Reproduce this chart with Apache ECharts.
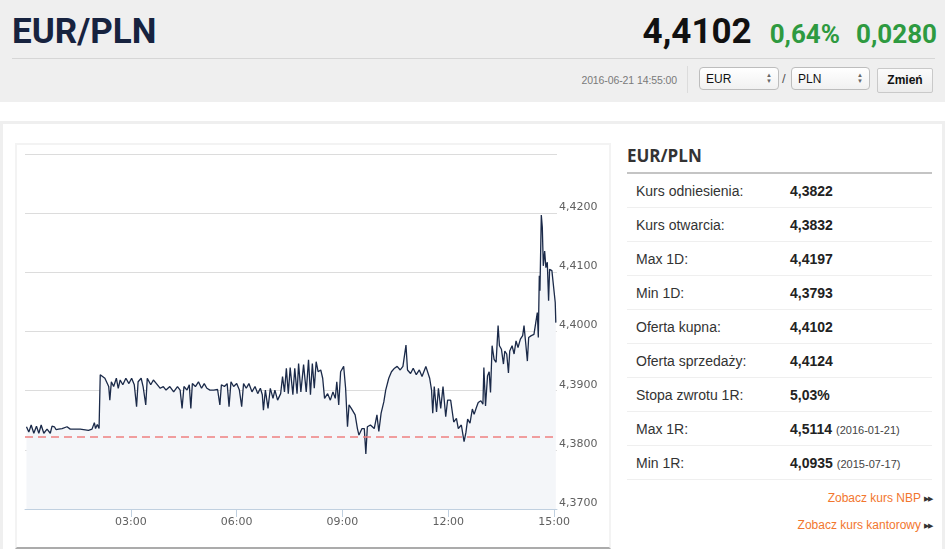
<!DOCTYPE html>
<html><head><meta charset="utf-8">
<script src="https://cdn.jsdelivr.net/npm/echarts@6/dist/echarts.min.js"></script>
<style>
html,body{margin:0;padding:0}
body{width:945px;height:549px;overflow:hidden;background:#fff;font-family:Arial,"Liberation Sans",sans-serif;position:relative}
.abs{position:absolute}
#hdr{left:0;top:0;width:945px;height:102px;background:#efefef}
#pair{left:12px;top:14px;font:700 35px/35px Roboto,sans-serif;color:#17233f;white-space:nowrap}
#quote{right:8px;top:14px;display:flex;align-items:baseline;white-space:nowrap;font-family:Roboto,sans-serif;font-weight:700}
#price{font-size:35px;line-height:35px;color:#111;margin-right:18px}
.chg{font-size:26px;line-height:35px;color:#2e9a40}
#sep{left:12px;top:58px;width:923px;height:1px;background:#d6d6d6}
#stamp{right:268px;top:74px;font-size:10.5px;color:#7a7a7a;white-space:nowrap;letter-spacing:-0.1px}
#vsep{left:687px;top:66px;width:1px;height:27px;background:#dcdcdc}
.sel{top:67px;height:21px;border:1px solid #bdbdbd;border-radius:4px;background:linear-gradient(#fff,#f1f1f1);font-size:12px;color:#111;box-sizing:content-box}
.sel span.t{position:absolute;left:6px;top:4px}
.sel .ar{position:absolute;right:6px;top:4px;font-size:6px;line-height:6px;color:#666;text-align:center}
#slash{left:782px;top:71px;font-size:13px;color:#555}
#btn{left:877px;top:68px;width:54px;height:23px;border:1px solid #c9c9c9;background:linear-gradient(#fbfbfb,#ececec);font-size:12px;font-weight:700;color:#111;text-align:center;line-height:23px;border-radius:2px}
#outer{left:0;top:121px;width:945px;height:440px;box-sizing:border-box;border:3px solid #efefef}
#cbox{left:15px;top:143px;width:596px;height:406px;box-sizing:border-box;border:2px solid #f3f3f3;border-bottom:2px solid #ababab}
#chart{left:15px;top:143px;width:596px;height:406px}
#ptitle{left:627px;top:146px;font:700 17px/20px "Open Sans",Arial,sans-serif;color:#333}
#pline{left:627px;top:172px;width:305px;height:2px;background:#c4c4c4}
.row{left:627px;width:305px;height:34px;border-bottom:1px solid #efefef;box-sizing:border-box;font-size:14px;color:#333}
.row .l{position:absolute;left:9px;top:9px}
.row .v{position:absolute;left:163px;top:9px;font-weight:700;color:#222}
.row .d{font-size:11px;font-weight:400;color:#444;margin-left:4px}
.lnk{right:13px;font-size:12px;color:#f2762e;white-space:nowrap}
.lnk .a{color:#333;font-size:7px;margin-left:3px;letter-spacing:-1px;vertical-align:1px}
</style></head>
<body>
<div id="hdr" class="abs"></div>
<div id="pair" class="abs">EUR/PLN</div>
<div id="quote" class="abs"><span id="price">4,4102</span><span class="chg" style="margin-right:16px">0,64%</span><span class="chg">0,0280</span></div>
<div id="sep" class="abs"></div>
<div id="stamp" class="abs">2016-06-21 14:55:00</div>
<div id="vsep" class="abs"></div>
<div class="abs sel" style="left:699px;width:78px"><span class="t">EUR</span><span class="ar">▲<br>▼</span></div>
<div id="slash" class="abs">/</div>
<div class="abs sel" style="left:791px;width:77px"><span class="t">PLN</span><span class="ar">▲<br>▼</span></div>
<div id="btn" class="abs">Zmień</div>
<div id="outer" class="abs"></div>
<div id="cbox" class="abs"></div>
<div id="chart" class="abs"></div>
<div id="ptitle" class="abs">EUR/PLN</div>
<div id="pline" class="abs"></div>
<div id="rows"></div>
<div class="abs lnk" style="top:491px">Zobacz kurs NBP<span class="a">▶▶</span></div>
<div class="abs lnk" style="top:518px">Zobacz kurs kantorowy<span class="a">▶▶</span></div>
<script>
// minutes after midnight (2016-06-21)
const times = [
2.5,6.5,10.5,15,19.5,23.5,27.5,32,37.5,43,46,50,53,57,63,71.5,77,94,108,114,118,120,123,126,
128,135.9,139.1,142.4,144.3,146.9,150.8,155.4,158.6,161.9,
166.4,171.6,176.8,181.4,185.9,189.8,192.4,197.6,200.9,205.4,
208,213.9,218.4,223.6,230.1,235.3,239.9,246.4,252.9,259.4,
263.9,267.2,270.4,275.6,279.5,282.1,284.7,289.9,295.1,300.3,
304.9,309.4,314.6,321.1,327.6,331.5,334.1,339.3,343.9,347.1,
350.4,354.9,360.1,364.7,368.6,371.8,376.4,380.9,386.1,391.3,
395.9,400.4,403.7,405.6,408.9,413.4,417.3,421.9,425.1,429.7,
434.9,438.1,441.4,444.6,447.9,451.1,455.7,458.9,462.8,465.4,
469.3,473.9,478.4,482.3,485.6,488.8,492.1,495.3,498.6,503.1,
506.4,509.6,514.8,519.4,523.9,527.8,530.4,533.7,536.9,542.1,
545.4,548.6,551.2,555.1,561.6,565.5,568.1,573.3,577.2,579.8,
582.4,587.6,594.1,598.7,601.9,605.8,610.4,613.6,618.8,623.4,
628.6,633.1,638.3,642.9,648.1,650.7,655.9,660.4,665.6,670.8,
675.4,681.9,688.4,691.6,693.6,696.2,700.1,703.3,707.2,711.1,
715.7,718.9,724.1,729.3,733.9,737.1,742.3,746.9,
750,753,757,761,764,768,771,775.5,779,780.6,
783.4,786.8,789.6,791.9,794.6,798,801.4,804.8,807.1,810.5,
813.9,816.2,819.5,822.4,824.6,828.6,832,835.3,838.7,842.7,
846.6,848.9,851.7,854.6,856.8,861.3,865.8,869.2,871.5,873.2,
874.9,876,878.3,880,881.7,884,886.1,888.5,890.7,892.4,
896.3,899.2,902,903
];
const rates = [
4.3839,4.3830,4.3842,4.3828,4.3840,4.3828,4.3842,4.3828,4.3835,4.3828,4.3840,4.3839,4.3834,4.3835,4.3836,4.3839,4.3835,4.3835,4.3833,4.3835,4.3846,4.3836,4.3843,4.3836,
4.3927,4.3921,4.3924,4.3907,4.3884,4.3915,4.3907,4.3921,4.3904,4.3918,
4.3910,4.3921,4.3912,4.3921,4.3910,4.3873,4.3915,4.3921,4.3907,4.3876,
4.3921,4.3910,4.3918,4.3912,4.3904,4.3907,4.3901,4.3907,4.3898,4.3907,
4.3901,4.3870,4.3907,4.3901,4.3910,4.3870,4.3912,4.3907,4.3915,4.3904,
4.3912,4.3904,4.3901,4.3901,4.3902,4.3876,4.3910,4.3907,4.3912,4.3873,
4.3915,4.3907,4.3912,4.3901,4.3873,4.3912,4.3904,4.3912,4.3898,4.3907,
4.3895,4.3904,4.3893,4.3867,4.3901,4.3870,4.3904,4.3887,4.3901,4.3884,
4.3895,4.3924,4.3898,4.3938,4.3895,4.3939,4.3893,4.3938,4.3895,4.3946,
4.3898,4.3944,4.3898,4.3952,4.3893,4.3946,4.3904,4.3949,4.3932,4.3935,
4.3921,4.3887,4.3895,4.3884,4.3898,4.3887,4.3915,4.3876,4.3932,4.3941,
4.3904,4.3839,4.3876,4.3870,4.3859,4.3836,4.3825,4.3836,4.3836,4.3793,
4.3839,4.3842,4.3836,4.3859,4.3831,4.3862,4.3881,4.3901,4.3921,4.3932,
4.3938,4.3941,4.3935,4.3941,4.3977,4.3935,4.3929,4.3938,4.3927,4.3935,
4.3924,4.3941,4.3921,4.3901,4.3862,4.3907,4.3864,4.3904,4.3870,4.3907,
4.3856,4.3884,4.3884,4.3847,4.3853,4.3836,4.3842,4.3814,
4.3829,4.3852,4.3845,4.3869,4.3860,4.3872,4.3880,4.3883,4.3877,4.3939,
4.3874,4.3925,4.3932,4.3897,4.3976,4.3953,4.3948,4.4010,4.3976,4.3970,
4.3945,4.3967,4.3962,4.3930,4.3967,4.3976,4.3962,4.3984,4.3973,4.3987,
4.3993,4.4010,4.3981,4.3950,4.3990,4.3993,4.3995,4.3998,4.4032,4.3990,
4.4094,4.4069,4.4197,4.4176,4.4111,4.4136,4.4108,4.4117,4.4052,4.4105,
4.4103,4.4101,4.4049,4.4015
];
const refRate = 4.3822;
const xTickValues = [180,360,540,720,900];
const xTickLabels = ['03:00','06:00','09:00','12:00','15:00'];

const statLabels = ['Kurs odniesienia:','Kurs otwarcia:','Max 1D:','Min 1D:','Oferta kupna:','Oferta sprzedaży:','Stopa zwrotu 1R:','Max 1R:','Min 1R:'];
const statValues = ['4,3822','4,3832','4,4197','4,3793','4,4102','4,4124','5,03%','4,5114','4,0935'];
const statDates  = ['','','','','','','','(2016-01-21)','(2015-07-17)'];

const rowsEl = document.getElementById('rows');
statLabels.forEach((l,i)=>{
  const r = document.createElement('div');
  r.className='abs row';
  r.style.top = (174 + i*34) + 'px';
  r.innerHTML = '<span class="l">'+l+'</span><span class="v">'+statValues[i]+(statDates[i]?'<span class="d">'+statDates[i]+'</span>':'')+'</span>';
  rowsEl.appendChild(r);
});

const data = times.map((t,i)=>[t,rates[i]]);
const chart = echarts.init(document.getElementById('chart'));
chart.setOption({
  animation:false,
  grid:{left:10,right:54,top:11,bottom:40},
  xAxis:{type:'value',min:0,max:905,
    axisLine:{show:true,lineStyle:{color:'#c0d0e0',width:1}},
    axisTick:{show:true,customValues:xTickValues,length:8,lineStyle:{color:'#c0d0e0'}},
    axisLabel:{customValues:xTickValues,formatter:v=>{const k=xTickValues.indexOf(v);return k>=0?xTickLabels[k]:'';},color:'#606060',fontSize:11,fontFamily:'DejaVu Sans',margin:8},
    splitLine:{show:false}},
  yAxis:{type:'value',position:'right',min:4.37,max:4.43,interval:0.01,
    axisLine:{show:false},axisTick:{show:false},
    axisLabel:{showMaxLabel:false,formatter:v=>v.toFixed(4).replace('.',','),color:'#606060',fontSize:11,fontFamily:'DejaVu Sans',margin:2,verticalAlign:'bottom',lineHeight:12},
    splitLine:{show:true,lineStyle:{color:'#dcdcdc',width:1}}},
  series:[{type:'line',data:data,showSymbol:false,symbol:'none',
    lineStyle:{color:'#1b2a49',width:1.3},
    areaStyle:{color:'#f4f6f9',origin:'start',opacity:1},
    markLine:{silent:true,symbol:'none',precision:4,label:{show:false},
      lineStyle:{color:'#ee8080',type:[8,5],width:1.5},data:[{yAxis:refRate}]}}]
});
</script>
</body></html>
